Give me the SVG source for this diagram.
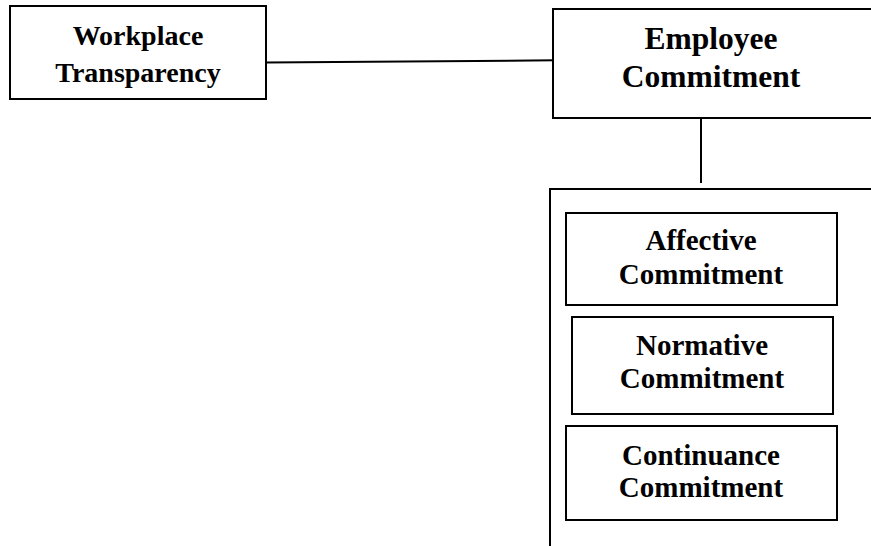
<svg xmlns="http://www.w3.org/2000/svg" width="871" height="546" viewBox="0 0 871 546">
<style>
.box{fill:#fff;stroke:#000;stroke-width:2}
.t{font-family:"Liberation Serif","Times New Roman",serif;font-weight:bold;fill:#000;text-anchor:middle}
.conn{stroke:#000;stroke-width:2;fill:none}
</style>
<rect width="871" height="546" fill="#fff"/>
<g id="connectors">
<line class="conn" x1="266" y1="62.5" x2="556" y2="60.3"/>
<line class="conn" x1="701" y1="118" x2="701" y2="183"/>
</g>
<g id="workplace">
<rect class="box" x="10" y="6" width="256" height="93"/>
<text class="t" x="138" y="45" font-size="28">Workplace</text>
<text class="t" x="138" y="82" font-size="28">Transparency</text>
</g>
<g id="employee">
<rect class="box" x="553" y="9" width="330" height="109"/>
<text class="t" x="711" y="49" font-size="31.5">Employee</text>
<text class="t" x="711" y="87" font-size="31.5">Commitment</text>
</g>
<g id="dimensions">
<rect class="box" x="550" y="189" width="340" height="370"/>
</g>
<g id="affective">
<rect class="box" x="566" y="213" width="271" height="92"/>
<text class="t" x="701" y="250" font-size="29">Affective</text>
<text class="t" x="701" y="284" font-size="29">Commitment</text>
</g>
<g id="normative">
<rect class="box" x="572" y="317" width="261" height="97"/>
<text class="t" x="702" y="355" font-size="29">Normative</text>
<text class="t" x="702" y="388" font-size="29">Commitment</text>
</g>
<g id="continuance">
<rect class="box" x="566" y="426" width="271" height="94"/>
<text class="t" x="701" y="465" font-size="29">Continuance</text>
<text class="t" x="701" y="497" font-size="29">Commitment</text>
</g>
</svg>
